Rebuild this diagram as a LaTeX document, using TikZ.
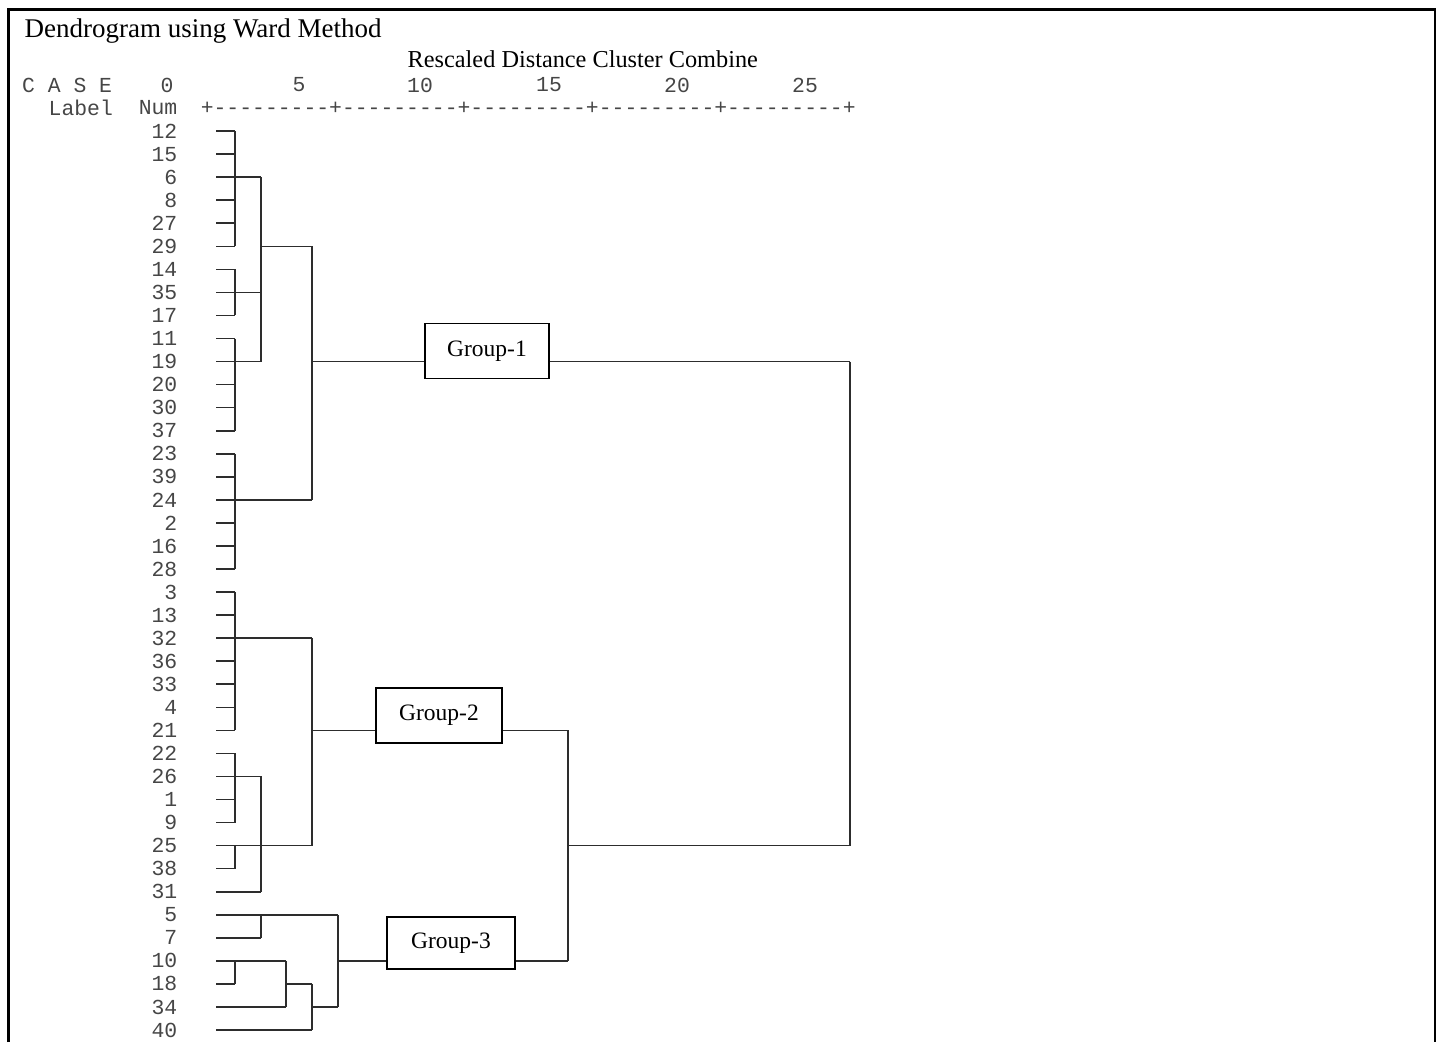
\documentclass[tikz,border=0pt]{standalone}
\usepackage{fontspec}
\setmainfont{Liberation Serif}
\setmonofont{Liberation Mono}
\usetikzlibrary{positioning,calc}
\definecolor{treeGray}{RGB}{45,45,45}
\definecolor{numGray}{RGB}{70,70,70}
\tikzset{
	numtxt/.style={font=\ttfamily\fontsize{21.4}{23}\selectfont, inner sep=0pt, text=numGray},
	gbox/.style={draw, line width=1.7pt, minimum width=124pt, minimum height=55pt, inner sep=0pt, font=\fontsize{23.5}{26}\selectfont},
	tline/.style={line width=1.6pt, treeGray}
}

\begin{document}
\begin{tikzpicture}[x=1pt, y=-1pt]
	\useasboundingbox (0,0) rectangle (1441,1042);
	\draw[line width=2.6pt] (8.5,1042) -- (8.5,9.5) -- (1435,9.5) -- (1435,1042);
	\node[anchor=base west, inner sep=0pt, font=\fontsize{27}{31}\selectfont] (title) at (24.5,37.3) {Dendrogram using Ward Method};
	\node[anchor=base west, inner sep=0pt, font=\fontsize{24.3}{28}\selectfont] (rescaled) at (407.5,67) {Rescaled Distance Cluster Combine};
	\node[numtxt, anchor=west] (case) at (22,85) {C A S E};
	\node[numtxt, anchor=west] (label) at (48.5,108) {Label};
	\node[numtxt, anchor=east] (num) at (177.5,108) {Num};
	\node[numtxt, anchor=west] (axis) at (200.6,108) {+---------+---------+---------+---------+---------+};
	\foreach \t/\x in {0/167,5/299,10/420,15/549,20/677,25/805}
		\node[numtxt] (t\t) at (\x,85) {\t};
	\foreach \c [count=\i] in {12,15,6,8,27,29,14,35,17,11,19,20,30,37,23,39,24,2,16,28,3,13,32,36,33,4,21,22,26,1,9,25,38,31,5,7,10,18,34,40}
		\node[numtxt, anchor=east] (n\c) at (177.5,108+23.05*\i) {\c};
	\coordinate (k0) at (216,0);
	\coordinate (k1) at (235,0);
	\coordinate (k2) at (261,0);
	\coordinate (k3) at (286,0);
	\coordinate (k4) at (312,0);
	\coordinate (k5) at (338,0);
	\coordinate (k6) at (568,0);
	\coordinate (k7) at (850,0);
	\node[gbox] (g1) at (487,351) {Group-1};
	\node[gbox, minimum width=126pt] (g2) at (439,715.5) {Group-2};
	\node[gbox, minimum width=128pt, minimum height=52pt] (g3) at (451,943) {Group-3};
	\foreach \c in {12,15,8,27,29,14,17,11,20,30,37,23,39,2,16,28,3,13,36,33,4,21,22,1,9,38,18}
		\draw[tline] (n\c -| k0) -- (n\c -| k1);
	\foreach \c/\e in {6/k2,35/k2,19/k2,26/k2,31/k2,7/k2,10/k3,34/k3,24/k4,32/k4,25/k4,40/k4,5/k5}
		\draw[tline] (n\c -| k0) -- (n\c -| \e);
	\foreach \c/\s/\e in {29/k2/k4,18/k3/k4,34/k4/k5,25/k6/k7}
		\draw[tline] (n\c -| \s) -- (n\c -| \e);
	\foreach \a/\b/\k in {12/29/k1,14/17/k1,11/37/k1,23/28/k1,3/21/k1,22/9/k1,25/38/k1,10/18/k1,6/19/k2,26/31/k2,5/7/k2,10/34/k3,29/24/k4,32/25/k4,18/40/k4,5/34/k5,21/10/k6,19/25/k7}
		\draw[tline] (n\a -| \k) -- (n\b -| \k);
	\draw[tline] (n19 -| k4) -- (n19 -| g1.west);
	\draw[tline] (n19 -| g1.east) -- (n19 -| k7);
	\draw[tline] (n21 -| k4) -- (n21 -| g2.west);
	\draw[tline] (n21 -| g2.east) -- (n21 -| k6);
	\draw[tline] (n10 -| k5) -- (n10 -| g3.west);
	\draw[tline] (n10 -| g3.east) -- (n10 -| k6);
\end{tikzpicture}
\end{document}
